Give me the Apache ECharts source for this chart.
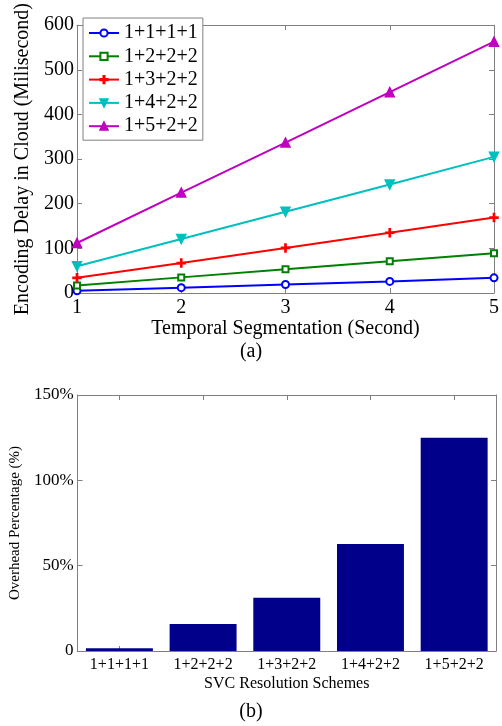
<!DOCTYPE html>
<html><head><meta charset="utf-8">
<script src="https://cdn.jsdelivr.net/npm/echarts@6/dist/echarts.min.js"></script>
<style>html,body{margin:0;padding:0;background:#fff}#c{width:502px;height:726px}</style>
</head><body><div id="c"></div>
<script>
var segX = [1, 2, 3, 4, 5];
var seriesNames = ['1+1+1+1', '1+2+2+2', '1+3+2+2', '1+4+2+2', '1+5+2+2'];
var s1 = [5, 12, 19, 26, 34];
var s2 = [17, 35, 53, 71, 89];
var s3 = [34, 67, 101, 135, 169];
var s4 = [60, 121, 182, 243, 305];
var s5 = [112, 225, 337, 450, 563];
var schemes = ['1+1+1+1', '1+2+2+2', '1+3+2+2', '1+4+2+2', '1+5+2+2'];
var overhead = [1.6, 15.8, 31.2, 62.7, 125];

var F = "'Liberation Serif', 'Times New Roman', serif";
var boxC = '#808080';
var colors = ['#0000ff', '#008000', '#ff0000', '#00bfbf', '#bf00bf'];
var symbols = ['emptyCircle', 'emptyRect',
  'path://M4.25,0h1.5v4.25h4.25v1.5h-4.25v4.25h-1.5v-4.25h-4.25v-1.5h4.25z',
  'path://M0,0L10,0L5,9z', 'triangle'];
var sizes = [7, 6, 8, 9, 9];
var allS = [s1, s2, s3, s4, s5];

function axBase() {
  return {
    axisLine: {show: true, onZero: false, lineStyle: {color: boxC, width: 1}},
    axisTick: {show: true, inside: true, length: 5, lineStyle: {color: boxC}},
    splitLine: {show: false}
  };
}
function merge(a, b) { for (var k in b) a[k] = b[k]; return a; }

var lineSeries = allS.map(function (d, i) {
  return {
    name: seriesNames[i], type: 'line', xAxisIndex: 0, yAxisIndex: 0,
    data: segX.map(function (x, j) { return [x, d[j]]; }),
    symbol: symbols[i], symbolSize: sizes[i], showAllSymbol: true,
    lineStyle: {color: colors[i], width: 2},
    itemStyle: {color: colors[i], borderColor: colors[i], borderWidth: 1.5},
    emphasis: {disabled: true}, animation: false
  };
});

var option = {
  animation: false,
  backgroundColor: '#fff',
  textStyle: {fontFamily: F},
  grid: [
    {left: 77, top: 14, width: 423, height: 279},
    {left: 72, top: 395, width: 424, height: 256}
  ],
  legend: {
    data: seriesNames, orient: 'vertical', left: 83, top: 18,
    width: 117, padding: [5, 5, 4, 5], itemGap: 3.3,
    itemWidth: 30, itemHeight: 9,
    borderColor: boxC, borderWidth: 1, backgroundColor: '#fff',
    textStyle: {fontFamily: F, fontSize: 20, color: '#000'},
    selectedMode: false
  },
  xAxis: [
    merge(axBase(), {type: 'value', gridIndex: 0, min: 1, max: 5, interval: 1, position: 'bottom',
      axisLabel: {fontFamily: F, fontSize: 20, color: '#000', margin: 5},
      name: 'Temporal Segmentation (Second)', nameLocation: 'middle', nameGap: 24,
      nameTextStyle: {fontFamily: F, fontSize: 20, color: '#000'}}),
    merge(axBase(), {type: 'value', gridIndex: 0, min: 1, max: 5, interval: 1, position: 'top',
      axisLabel: {show: false}}),
    merge(axBase(), {type: 'category', gridIndex: 1, data: schemes, position: 'bottom',
      axisTick: {show: true, inside: true, length: 5, alignWithLabel: true, lineStyle: {color: boxC}},
      axisLabel: {fontFamily: F, fontSize: 16, color: '#000', margin: 6, interval: 0},
      name: 'SVC Resolution Schemes', nameLocation: 'middle', nameGap: 25,
      nameTextStyle: {fontFamily: F, fontSize: 16, color: '#000'}}),
    merge(axBase(), {type: 'category', gridIndex: 1, data: schemes, position: 'top',
      axisTick: {show: true, inside: true, length: 5, alignWithLabel: true, lineStyle: {color: boxC}},
      axisLabel: {show: false}})
  ],
  yAxis: [
    merge(axBase(), {type: 'value', gridIndex: 0, min: 0, max: 600, interval: 100, position: 'left',
      axisLabel: {fontFamily: F, fontSize: 20, color: '#000', margin: 3},
      name: 'Encoding Delay in Cloud (Milisecond)', nameLocation: 'middle', nameGap: 43,
      nameTextStyle: {fontFamily: F, fontSize: 20, color: '#000'}}),
    merge(axBase(), {type: 'value', gridIndex: 0, min: 0, max: 600, interval: 100, position: 'right',
      axisLabel: {show: false}}),
    merge(axBase(), {type: 'value', gridIndex: 1, min: 0, max: 150, interval: 50, position: 'left',
      axisLabel: {fontFamily: F, fontSize: 17, color: '#000', margin: 4,
        formatter: function (v) { return v === 0 ? '0' : v + '%'; }},
      name: 'Overhead Percentage (%)', nameLocation: 'middle', nameGap: 51,
      nameTextStyle: {fontFamily: F, fontSize: 15, color: '#000'}}),
    merge(axBase(), {type: 'value', gridIndex: 1, min: 0, max: 150, interval: 50, position: 'right',
      axisLabel: {show: false}})
  ],
  series: lineSeries.concat([{
    type: 'bar', xAxisIndex: 2, yAxisIndex: 2, data: overhead,
    barWidth: '80%', itemStyle: {color: '#00008b'}, emphasis: {disabled: true}
  }]),
  graphic: [
    {type: 'text', left: 'center', top: 342, style: {text: '(a)', font: "20px 'Liberation Serif', serif", fill: '#000'}},
    {type: 'text', left: 'center', top: 702, style: {text: '(b)', font: "20px 'Liberation Serif', serif", fill: '#000'}}
  ]
};
var chart = echarts.init(document.getElementById('c'), null, {renderer: 'canvas'});
chart.setOption(option);
</script></body></html>
